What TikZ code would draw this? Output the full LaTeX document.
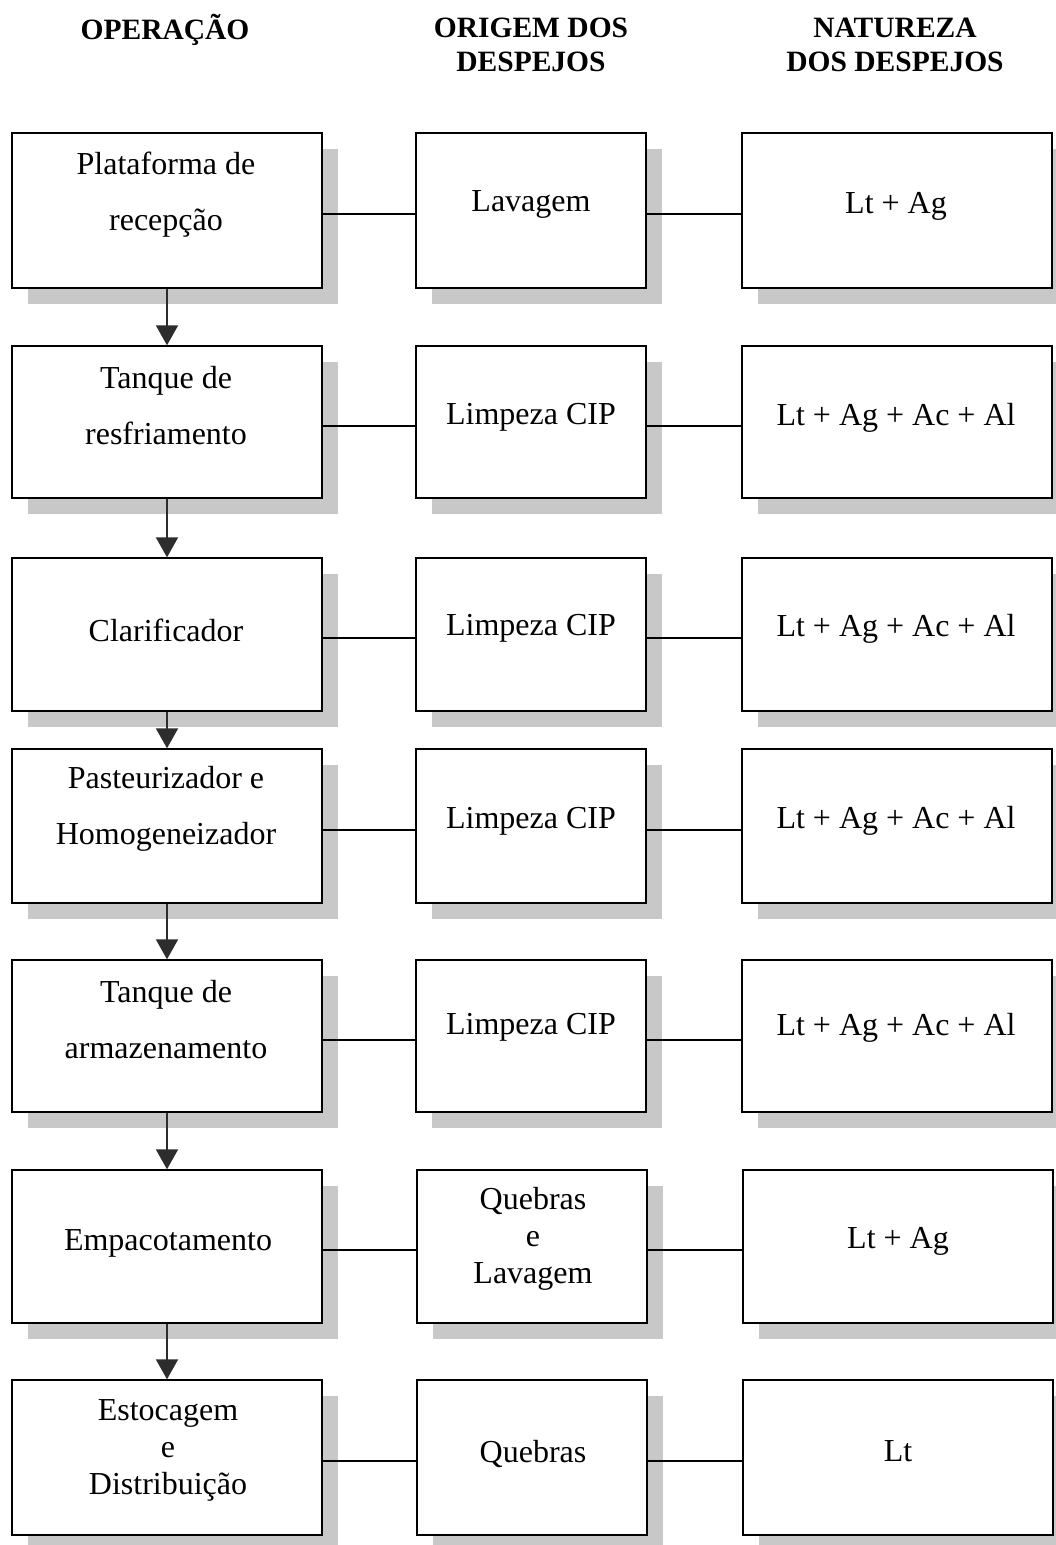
\documentclass[tikz,border=0pt]{standalone}
\usepackage{fontspec}
\setmainfont{Liberation Serif}
\usetikzlibrary{arrows.meta,shadows}
\definecolor{shadowgray}{RGB}{200,200,200}
\definecolor{arrowgray}{RGB}{45,45,45}
\begin{document}
\begin{tikzpicture}[x=1pt,y=-1pt,
  box/.style={draw=black, line width=1.4pt, fill=white, inner sep=0pt,
    general shadow={fill=shadowgray, shadow xshift=16pt, shadow yshift=-16pt}},
  wide/.style={box, minimum width=310pt},
  narrow/.style={box, minimum width=230pt},
  txt/.style={align=center, inner sep=0pt, yshift=-3.5pt, font=\fontsize{32}{56}\selectfont},
  txtthree/.style={align=center, inner sep=0pt, yshift=-3pt, font=\fontsize{32}{37}\selectfont},
  head/.style={align=center, inner sep=0pt, font=\bfseries\fontsize{29.5}{34}\selectfont},
  flow/.style={draw=arrowgray, line width=2pt, -{Triangle[width=22pt,length=20pt]}},
  link/.style={draw=black, line width=2pt}]
\useasboundingbox (0,0) rectangle (1056,1545);

% column headings
\node[head] (h1) at (165,30) {OPERAÇÃO};
\node[head] (h2) at (531,45) {ORIGEM DOS\\DESPEJOS};
\node[head] (h3) at (895,45) {NATUREZA\\DOS DESPEJOS};

% operation column
\node[wide, minimum height=155pt] (o1) at (167,210.5) {};
\node[wide, minimum height=152pt] (o2) at (167,422) {};
\node[wide, minimum height=153pt] (o3) at (167,634.5) {};
\node[wide, minimum height=154pt] (o4) at (167,826) {};
\node[wide, minimum height=152pt] (o5) at (167,1036) {};
\node[wide, minimum height=153pt] (o6) at (167,1246.5) {};
\node[wide, minimum height=155pt] (o7) at (167,1457.5) {};

% origin column
\node[narrow, minimum height=155pt] (s1) at (531,210.5) {};
\node[narrow, minimum height=152pt] (s2) at (531,422) {};
\node[narrow, minimum height=153pt] (s3) at (531,634.5) {};
\node[narrow, minimum height=154pt] (s4) at (531,826) {};
\node[narrow, minimum height=152pt] (s5) at (531,1036) {};
\node[narrow, minimum height=153pt] (s6) at (532,1246.5) {};
\node[narrow, minimum height=155pt] (s7) at (532,1457.5) {};

% nature column
\node[wide, minimum height=155pt] (n1) at (897,210.5) {};
\node[wide, minimum height=152pt] (n2) at (897,422) {};
\node[wide, minimum height=153pt] (n3) at (897,634.5) {};
\node[wide, minimum height=154pt] (n4) at (897,826) {};
\node[wide, minimum height=152pt] (n5) at (897,1036) {};
\node[wide, minimum height=153pt] (n6) at (898,1246.5) {};
\node[wide, minimum height=155pt] (n7) at (898,1457.5) {};

% texts of the operation column
\node[txt] (o1t) at (166,191) {Plataforma de\\recepção};
\node[txt] (o2t) at (166,402) {Tanque de\\resfriamento};
\node[txt] (o3t) at (166,627) {Clarificador};
\node[txt] (o4t) at (166,805) {Pasteurizador e\\Homogeneizador};
\node[txt] (o5t) at (166,1016) {Tanque de\\armazenamento};
\node[txt] (o6t) at (168,1240) {Empacotamento};
\node[txtthree] (o7t) at (168,1447) {Estocagem\\e\\Distribuição};

% texts of the origin column
\node[txt] (s1t) at (531,201) {Lavagem};
\node[txt] (s2t) at (531,414) {Limpeza CIP};
\node[txt] (s3t) at (531,625) {Limpeza CIP};
\node[txt] (s4t) at (531,818) {Limpeza CIP};
\node[txt] (s5t) at (531,1024) {Limpeza CIP};
\node[txtthree] (s6t) at (533,1236) {Quebras\\e\\Lavagem};
\node[txt] (s7t) at (533,1450) {Quebras};

% texts of the nature column
\node[txt] (n1t) at (896,203) {Lt + Ag};
\node[txt] (n2t) at (896,414) {Lt + Ag + Ac + Al};
\node[txt] (n3t) at (896,625) {Lt + Ag + Ac + Al};
\node[txt] (n4t) at (896,817) {Lt + Ag + Ac + Al};
\node[txt] (n5t) at (896,1024) {Lt + Ag + Ac + Al};
\node[txt] (n6t) at (898,1238) {Lt + Ag};
\node[txt] (n7t) at (898,1448) {Lt};

% process flow
\foreach \a/\b in {1/2,2/3,3/4,4/5,5/6,6/7}
  \draw[flow] (o\a.south) -- (o\b.north);

% links between the columns
\foreach \r in {1,...,7} {
  \draw[link] ([yshift=-3.5pt]o\r.east) -- ([yshift=-3.5pt]s\r.west);
  \draw[link] ([yshift=-3.5pt]s\r.east) -- ([yshift=-3.5pt]n\r.west);
}
\end{tikzpicture}
\end{document}
